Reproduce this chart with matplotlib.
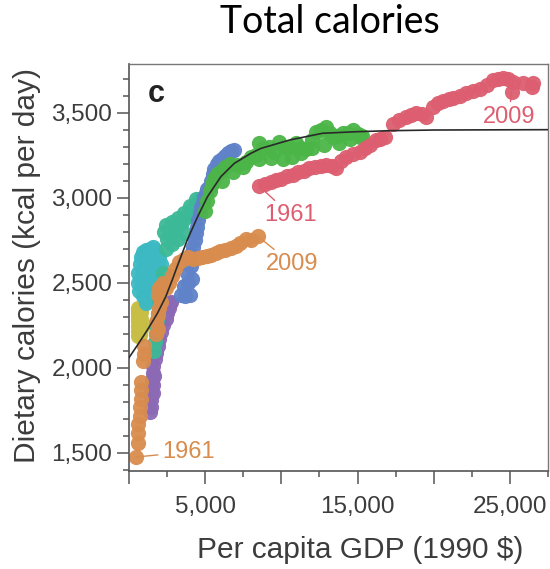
#!/usr/bin/env python3
#
# Dietary calories against per capita GDP, one colour per region
#

import matplotlib
matplotlib.use('Agg')
import matplotlib.pyplot as plt
from matplotlib.ticker import MultipleLocator, FuncFormatter

# per capita GDP (1990 $) and dietary calories (kcal/day), one pair of lists per region
yellow_gdp  = [600, 750, 620, 780, 580, 760, 600, 770, 590, 750, 610, 780, 600, 760, 620, 740]
yellow_kcal = [2190, 2200, 2215, 2230, 2245, 2260, 2275, 2285, 2300, 2310, 2320, 2330, 2340, 2345, 2350, 2195]

cyan_gdp  = [650, 600, 620, 700, 800, 950, 1100, 1250, 1400, 1550, 1700, 1850, 2000, 2080, 1900, 1700, 1500,
             1300, 1100, 900, 800, 950, 1150, 1350, 1550, 1750, 1250, 1050, 1400, 1600, 900, 1100, 1300]
cyan_kcal = [2450, 2500, 2560, 2610, 2650, 2680, 2690, 2680, 2700, 2710, 2690, 2670, 2650, 2610, 2600, 2620, 2640,
             2620, 2600, 2580, 2520, 2500, 2530, 2560, 2570, 2550, 2480, 2440, 2460, 2500, 2420, 2380, 2400]

purple_gdp  = [1400, 1450, 1420, 1460, 1450, 1500, 1550, 1600, 1700, 1800, 1900, 2000, 2100, 2250, 2400,
               2500, 2600, 2700, 2750, 1550, 1600, 1650]
purple_kcal = [1740, 1770, 1810, 1850, 1890, 1930, 1970, 2010, 2050, 2090, 2130, 2170, 2210, 2250, 2290,
               2320, 2350, 2380, 2390, 1850, 1900, 1950]

teal_gdp  = [1650, 1700, 1750, 1800, 1850, 1900, 2000, 2100, 2200, 2300, 2400, 2500, 2700, 2900, 3100, 3300,
             3500, 3700, 3900, 4100, 4300, 4500, 4650, 2800, 3200, 3600,
             2400, 2800, 3200, 3600, 4000, 4400]
teal_kcal = [2100, 2150, 2200, 2240, 2280, 2320, 2400, 2480, 2560, 2800, 2700, 2760, 2800, 2810, 2820, 2840,
             2860, 2880, 2900, 2930, 2950, 2975, 2990, 2730, 2760, 2790,
             2840, 2860, 2880, 2910, 2950, 2990]

blue_gdp  = [3400, 3700, 4000, 3600, 3900, 4150, 3800, 4100, 3950, 4100, 4200, 4300, 4400, 4450, 4550, 4650,
             4750, 4850, 4950, 5050, 5150, 5300, 5400, 5500, 5600, 5750, 5900, 6100, 6300, 6500, 6700, 6900]
blue_kcal = [2430, 2420, 2430, 2480, 2500, 2520, 2560, 2600, 2634, 2670, 2710, 2750, 2790, 2830, 2870, 2910,
             2945, 2975, 3005, 3030, 3050, 3070, 3100, 3140, 3170, 3200, 3215, 3230, 3245, 3260, 3275, 3280]

green_gdp  = [5000, 5150, 5300, 5450, 5600, 5800, 6000, 6100, 6300, 6600, 6800, 7100, 7460, 7680, 8000, 8330,
              8550, 8800, 9210, 9500, 9870, 10200, 10530, 10970, 11300, 11620, 12000, 12280, 12600, 12940,
              13200, 13370, 13700, 14030, 14400, 14690, 15000, 15130, 15300,
              8500, 9300, 10100, 10700, 11300, 12000, 12800, 13800, 14500]
green_kcal = [2920, 2980, 3040, 3080, 3110, 3140, 3150, 3100, 3180, 3200, 3153, 3190, 3182, 3212, 3240, 3250,
              3320, 3290, 3300, 3270, 3329, 3300, 3300, 3320, 3295, 3285, 3340, 3388, 3400, 3418,
              3380, 3359, 3365, 3379, 3380, 3398, 3375, 3359, 3365,
              3225, 3235, 3230, 3240, 3260, 3290, 3310, 3320, 3345]

# 1961 first, 2009 last
orange_gdp  = [440, 600, 560, 620, 700, 720, 760, 780, 800, 950, 1000, 990, 1750, 1900, 1800, 1900, 2000,
               2100, 1900, 2000, 2200, 2400, 2600, 2800, 3000, 3300, 3600, 3900, 4200, 4500, 4800, 5100,
               5400, 5700, 6000, 6300, 6700, 7000, 7300, 7700, 8000, 8440]
orange_kcal = [1476, 1560, 1620, 1670, 1720, 1770, 1820, 1870, 1920, 2040, 2080, 2130, 2200, 2230, 2270, 2310,
               2350, 2390, 2430, 2470, 2500, 2470, 2500, 2540, 2580, 2620, 2640, 2650, 2640, 2645, 2650, 2655,
               2665, 2675, 2685, 2695, 2705, 2715, 2735, 2760, 2750, 2775]

red_gdp  = [8550, 8900, 9300, 9650, 10000, 10400, 10750, 11100, 11500, 11840, 12200, 12600, 12940, 13300,
            13600, 13900, 14250, 14700, 15130, 15500, 15790, 16230, 16500, 16780, 17320, 17700, 18200, 18500,
            18860, 19200, 19520, 19960, 20300, 20610, 21000, 21270, 21700, 22150, 22600, 23030, 23500, 23900,
            24200, 24560, 24900, 25220, 25880, 26530, 26420, 25110]
red_kcal = [3068, 3080, 3095, 3104, 3110, 3125, 3133, 3150, 3160, 3173, 3180, 3188, 3192, 3185,
            3173, 3215, 3241, 3255, 3271, 3290, 3310, 3339, 3345, 3355, 3434, 3455, 3477, 3488,
            3496, 3490, 3477, 3535, 3555, 3571, 3578, 3585, 3600, 3614, 3625, 3638, 3665, 3692,
            3700, 3702, 3695, 3682, 3673, 3676, 3649, 3624]

# fitted curve, levels off at 3,400 kcal
fit_gdp  = [0, 550, 1200, 1860, 2410, 2850, 3180, 3840, 4500, 5150, 6030, 6910, 8000, 8660, 10530, 12710,
            14910, 17100, 20000, 27500]
fit_kcal = [2060, 2133, 2222, 2320, 2418, 2520, 2600, 2755, 2888, 3006, 3124, 3202, 3261, 3290, 3339, 3379,
            3388, 3394, 3398, 3400]

C_YELLOW = '#c8be46'
C_CYAN   = '#3cb9c3'
C_PURPLE = '#8c69b4'
C_TEAL   = '#3cb996'
C_BLUE   = '#5f82c8'
C_GREEN  = '#4cb548'
C_ORANGE = '#d88c4e'
C_RED    = '#dc5e70'
GREY     = '#3c3c3c'

plt.rcParams['font.family'] = ['Liberation Sans', 'DejaVu Sans']

fig = plt.figure(figsize=(5.5, 5.69), dpi=100)
ax = fig.add_axes([129/550, 1 - 471/569, 419/550, 407/569])

series = [(yellow_gdp, yellow_kcal, C_YELLOW),
          (cyan_gdp, cyan_kcal, C_CYAN),
          (purple_gdp, purple_kcal, C_PURPLE),
          (teal_gdp, teal_kcal, C_TEAL),
          (blue_gdp, blue_kcal, C_BLUE),
          (green_gdp, green_kcal, C_GREEN),
          (orange_gdp, orange_kcal, C_ORANGE),
          (red_gdp, red_kcal, C_RED)]
for gdp, kcal, col in series:
    ax.scatter(gdp, kcal, s=120, color=col, alpha=0.95, linewidths=0)

ax.plot(fit_gdp, fit_kcal, color='#2a2a2a', lw=1.2, zorder=5)

# first / last year labels
def year_label(text, dot, pos, col, ha='left'):
    ax.annotate(text, xy=dot, xytext=pos, color=col, fontsize=17, ha=ha, va='center',
                arrowprops=dict(arrowstyle='-', color=col, lw=1.0, shrinkA=1, shrinkB=0))

year_label('1961', (orange_gdp[0], orange_kcal[0]), (2170, 1506), C_ORANGE)
year_label('2009', (orange_gdp[-1], orange_kcal[-1]), (8990, 2610), C_ORANGE)
year_label('1961', (red_gdp[0], red_kcal[0]), (8880, 2898), C_RED)
year_label('2009', (red_gdp[-1], red_kcal[-1]), (24930, 3476), C_RED, ha='center')

ax.text(0.045, 0.907, 'c', transform=ax.transAxes, fontsize=22, fontweight='bold', color='#222222',
        ha='left', va='baseline')

ax.set_xlim(0, 27500)
ax.set_ylim(1394, 3786)
ax.xaxis.set_major_locator(MultipleLocator(5000))
ax.xaxis.set_minor_locator(MultipleLocator(2500))
ax.yaxis.set_major_locator(MultipleLocator(500))
ax.yaxis.set_minor_locator(MultipleLocator(100))
ax.xaxis.set_major_formatter(FuncFormatter(lambda v, p: '{:,.0f}'.format(v) if int(v) % 10000 == 5000 else ''))
ax.yaxis.set_major_formatter(FuncFormatter(lambda v, p: '{:,.0f}'.format(v)))

ax.tick_params(which='major', length=9, width=1.1, color='#555555', labelsize=17.5, labelcolor=GREY)
ax.tick_params(which='minor', length=4, width=1.1, color='#555555')
ax.tick_params(axis='x', which='major', pad=9)
ax.tick_params(axis='y', which='major', pad=3)
for side in ['left', 'bottom']:
    ax.spines[side].set_color('#555555')
    ax.spines[side].set_linewidth(1.2)
for side in ['top', 'right']:
    ax.spines[side].set_color('#777777')
    ax.spines[side].set_linewidth(1.0)

ax.set_xlabel('Per capita GDP (1990 $)', fontsize=21.5, color=GREY, va='center')
ax.xaxis.set_label_coords(0.551, -0.194)
ax.set_ylabel('Dietary calories (kcal per day)', fontsize=21.5, color=GREY, va='center')
ax.yaxis.set_label_coords(-0.243, 0.506)

fig.text(330/550, 1 - 22/569, 'Total calories', fontsize=27, family=['Lato', 'DejaVu Sans'],
         ha='center', va='center', color='black')

fig.savefig('out.png', dpi=100)
